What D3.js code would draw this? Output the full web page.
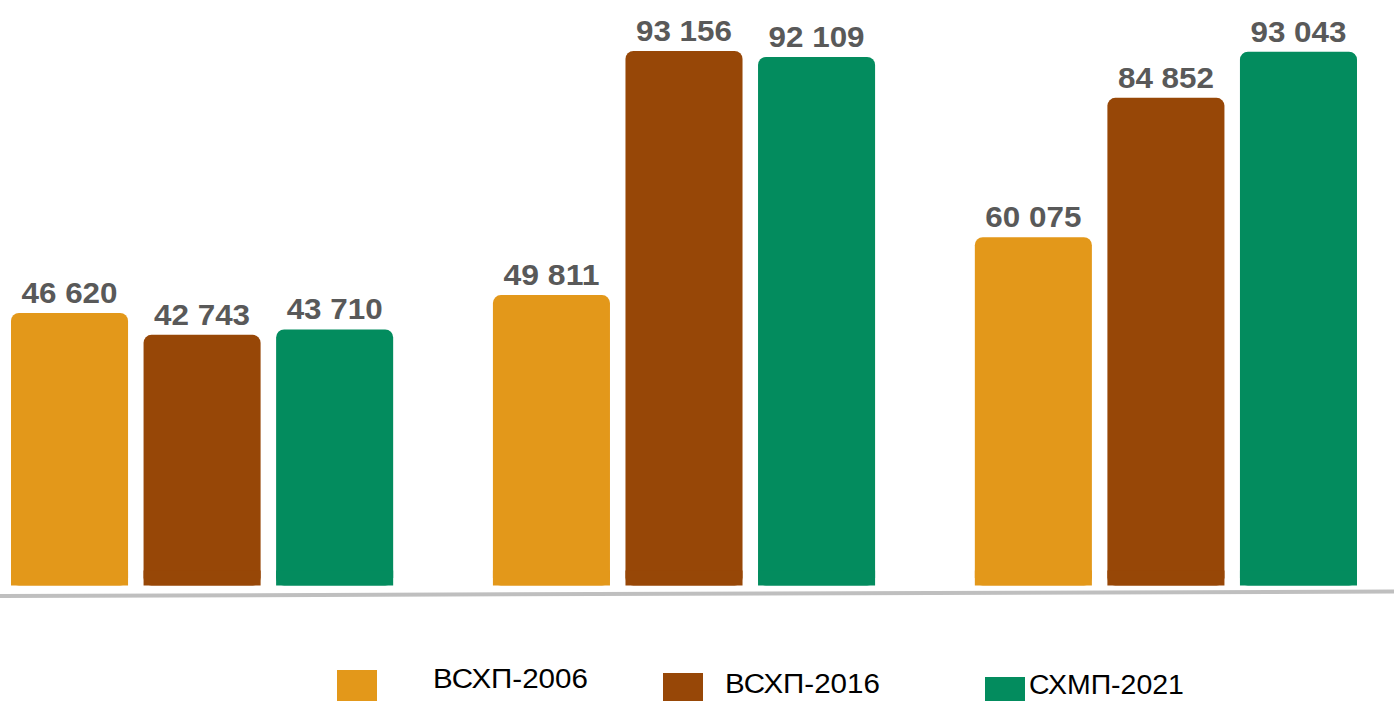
<!DOCTYPE html>
<html>
<head>
<meta charset="utf-8">
<script src="https://cdn.jsdelivr.net/npm/d3@7.9.0/dist/d3.min.js"></script>
<style>
  html, body { margin: 0; padding: 0; background: #fff; }
  svg { display: block; }
</style>
</head>
<body>
<svg id="chart" width="1394" height="701"></svg>
<script>
// groups (no visible category labels on the original)
const groups = ['g1', 'g2', 'g3'];
const series = ['ВСХП-2006', 'ВСХП-2016', 'СХМП-2021'];

// values per series, one per group
const vals2006 = [46620, 49811, 60075];
const vals2016 = [42743, 93156, 84852];
const vals2021 = [43710, 92109, 93043];

const colors = ['#E3981A', '#974707', '#038C5E'];

const svg = d3.select('#chart');

const x0 = d3.scaleBand()
    .domain(groups)
    .range([11, 1357])
    .paddingInner(0.207)
    .paddingOuter(0);

const x1 = d3.scaleBand()
    .domain(series)
    .range([0, x0.bandwidth()])
    .paddingInner(0.117);

// baseline sits a little above the bar bottoms in the original
const y = d3.scaleLinear()
    .domain([0, 100000])
    .range([575.5, 12.5]);

const fmt = v => d3.format(',')(v).replace(/,/g, ' ');

const allVals = [vals2006, vals2016, vals2021];
const rows = [];
groups.forEach((g, gi) => {
    series.forEach((s, si) => {
        rows.push({ group: g, series: s, value: allVals[si][gi], color: colors[si] });
    });
});

// stretch a text horizontally to a target width
function stretchTo(sel, width) {
    sel.each(function () {
        const t = d3.select(this);
        const w = this.getComputedTextLength();
        const k = width / w;
        const x = +t.attr('x'), yy = +t.attr('y');
        t.attr('transform', `translate(${x},${yy}) scale(${k},1) translate(${-x},${-yy})`);
    });
}

const bars = svg.append('g');

bars.selectAll('rect')
    .data(rows)
    .join('rect')
    .attr('x', d => x0(d.group) + x1(d.series))
    .attr('y', d => y(d.value))
    .attr('width', x1.bandwidth())
    .attr('height', d => y(0) - y(d.value) + 10)
    .attr('rx', 8)
    .attr('fill', d => d.color);

// cover the bottom rounded corners so bars look square at the base
bars.selectAll('rect.base')
    .data(rows)
    .join('rect')
    .attr('class', 'base')
    .attr('x', d => x0(d.group) + x1(d.series))
    .attr('y', y(0) - 5)
    .attr('width', x1.bandwidth())
    .attr('height', 15)
    .attr('fill', d => d.color);

svg.append('g')
    .selectAll('text')
    .data(rows)
    .join('text')
    .attr('x', d => x0(d.group) + x1(d.series) + x1.bandwidth() / 2)
    .attr('y', d => y(d.value) - 10)
    .attr('text-anchor', 'middle')
    .attr('font-family', 'Liberation Sans, Arial, sans-serif')
    .attr('font-weight', 'bold')
    .attr('font-size', 29)
    .attr('fill', '#595959')
    .text(d => fmt(d.value))
    .call(stretchTo, 96);

// axis line (slightly tilted in the original)
svg.append('line')
    .attr('x1', 0).attr('y1', 596)
    .attr('x2', 1394).attr('y2', 591.5)
    .attr('stroke', '#bfbfbf')
    .attr('stroke-width', 4);

// legend
const legendPos = [
    { sx: 337, sy: 670, tx: 433, ty: 688 },
    { sx: 663, sy: 673, tx: 725, ty: 693 },
    { sx: 985, sy: 677, tx: 1029, ty: 694 }
];

const legend = svg.append('g')
    .selectAll('g')
    .data(series)
    .join('g');

legend.append('rect')
    .attr('x', (d, i) => legendPos[i].sx)
    .attr('y', (d, i) => legendPos[i].sy)
    .attr('width', 40)
    .attr('height', (d, i) => 701 - legendPos[i].sy)
    .attr('fill', (d, i) => colors[i]);

legend.append('text')
    .attr('x', (d, i) => legendPos[i].tx)
    .attr('y', (d, i) => legendPos[i].ty)
    .attr('font-family', 'Liberation Sans, Arial, sans-serif')
    .attr('font-size', 27)
    .attr('fill', '#000')
    .text(d => d)
    .call(stretchTo, 155);
</script>
</body>
</html>
